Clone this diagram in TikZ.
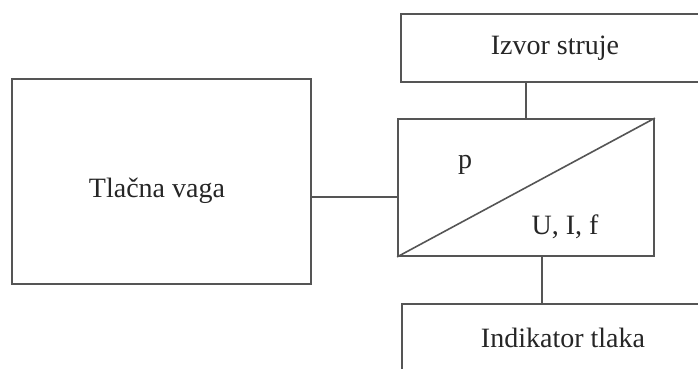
\documentclass[tikz,border=0pt]{standalone}
\usepackage{fontspec}
\setmainfont{Liberation Serif}
\begin{document}
\begin{tikzpicture}[x=1pt,y=-1pt,
  box/.style={draw=linegray, line width=1.8pt, minimum width=#1, inner sep=0pt},
  lbl/.style={inner sep=0pt, font=\fontsize{28}{32}\selectfont, text=textgray},
  conn/.style={draw=linegray, line width=1.6pt}]
\definecolor{linegray}{HTML}{555555}
\definecolor{textgray}{HTML}{262626}
\useasboundingbox (0,0) rectangle (698,368);
\clip (0,0) rectangle (698,368);
\fill[white] (0,0) rectangle (698,368);
\node[box=299pt, minimum height=205pt] (vaga) at (161.5,181.5) {};
\node[lbl] at (157,191) {Tlačna vaga};
\node[box=308pt, minimum height=68pt] (izvor) at (555,48) {};
\node[lbl] at (555,48) {Izvor struje};
\node[box=256pt, minimum height=137pt] (conv) at (526,187.5) {};
\node[box=322pt, minimum height=66pt] (ind) at (563,337) {};
\node[lbl] at (563,338) {Indikator tlaka};
\draw[conn] (conv.south west) -- (conv.north east);
\node[lbl] (p) at (465,165) {p};
\node[lbl] (uif) at (565,227) {U, I, f};
\draw[conn] (vaga.east |- 0,197) -- (conv.west |- 0,197);
\draw[conn] (izvor.south -| 526,0) -- (conv.north -| 526,0);
\draw[conn] (conv.south -| 542,0) -- (ind.north -| 542,0);
\end{tikzpicture}
\end{document}
